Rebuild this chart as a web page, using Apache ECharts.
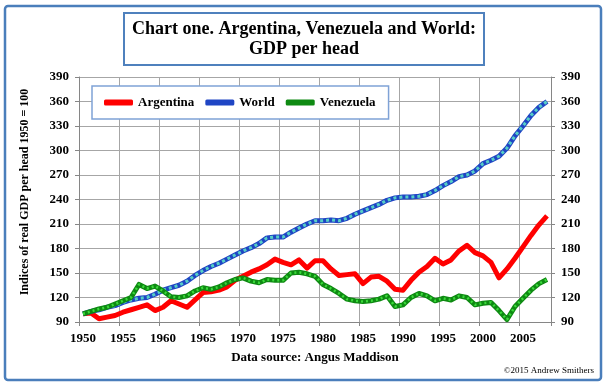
<!DOCTYPE html>
<html>
<head>
<meta charset="utf-8">
<script src="https://cdn.jsdelivr.net/npm/echarts@6/dist/echarts.min.js"></script>
<style>
html,body{margin:0;padding:0;background:#fff;}
#chart{width:608px;height:385px;}
</style>
</head>
<body>
<div id="chart"></div>
<script>
var years = ['1950','1951','1952','1953','1954','1955','1956','1957','1958','1959',
  '1960','1961','1962','1963','1964','1965','1966','1967','1968','1969',
  '1970','1971','1972','1973','1974','1975','1976','1977','1978','1979',
  '1980','1981','1982','1983','1984','1985','1986','1987','1988','1989',
  '1990','1991','1992','1993','1994','1995','1996','1997','1998','1999',
  '2000','2001','2002','2003','2004','2005','2006','2007','2008'];

var argentina = [100,101,94,96,98,102,105,108,111,104,
  108,116,112,108,117,126,127,129,133,141,
  146,151,155,160,167,163,160,166,156,165,
  165,155,147,148,149,137,145,146,140,130,
  129,141,151,158,168,161,166,177,184,175,
  171,163,144,155,168,182,196,209,220];

var world = [100,103,105,108,110,114,117,119,120,124,
  129,132,135,140,147,153,158,162,167,172,
  177,181,186,193,194,194,200,205,210,214,
  214,215,214,217,222,226,230,234,239,242,
  243,243,244,246,251,257,262,268,270,275,
  284,288,293,303,318,330,343,353,360];

var venezuela = [100,103,106,108,112,116,120,136,131,134,
  128,121,120,122,128,132,130,133,138,142,
  144,140,138,142,141,141,150,151,149,146,
  136,131,125,118,116,115,116,118,122,109,
  111,120,125,122,116,119,117,122,120,111,
  113,114,104,93,109,119,129,137,142];

var yMin = 90, yMax = 390, yStep = 30;

var serif = "'Liberation Serif','Times New Roman',serif";
var chart = echarts.init(document.getElementById('chart'), null, {renderer:'canvas'});

function axisY(pos){
  return {
    type:'value', position:pos, min:yMin, max:yMax, interval:yStep,
    axisLine:{show:true, lineStyle:{color:'#868686', width:1}},
    axisTick:{show:true, inside:false, length:4, lineStyle:{color:'#868686'}},
    axisLabel:{margin:10, color:'#000', fontFamily:serif, fontWeight:'bold', fontSize:13},
    splitLine:{show: pos==='left', lineStyle:{color:'#A6A6A6', width:1}}
  };
}

chart.setOption({
  animation:false,
  backgroundColor:'#fff',
  title:{
    text:'Chart one. Argentina, Venezuela and World:\nGDP per head',
    left:296, top:13,
    textAlign:'center',
    padding:[6,8,6,8],
    borderColor:'#4F81BD', borderWidth:2,
    textStyle:{fontFamily:serif, fontWeight:'bold', fontSize:18, lineHeight:20, color:'#000'}
  },
  legend:{
    data:['Argentina','World','Venezuela'],
    left:92, top:86,
    padding:[10,13,10,12],
    itemGap:11,
    itemWidth:29, itemHeight:6,
    icon:'roundRect',
    backgroundColor:'#fff',
    borderColor:'#7FA2D6', borderWidth:1.5,
    textStyle:{fontFamily:serif, fontWeight:'bold', fontSize:13, color:'#000'}
  },
  grid:{left:79, right:57, top:77, bottom:63, containLabel:false},
  xAxis:{
    type:'category', data:years, boundaryGap:true,
    axisLine:{show:true, lineStyle:{color:'#868686', width:1}},
    axisTick:{show:true, interval:4, length:4, lineStyle:{color:'#868686'}},
    axisLabel:{interval:4, margin:10, color:'#000', fontFamily:serif, fontWeight:'bold', fontSize:13},
    splitLine:{show:true, interval:4, lineStyle:{color:'#A6A6A6', width:1}},
    name:'Data source: Angus Maddison', nameLocation:'middle', nameGap:29,
    nameTextStyle:{fontFamily:serif, fontWeight:'bold', fontSize:13, color:'#000'}
  },
  yAxis:[axisY('left'), axisY('right')],
  series:[
    {name:'Argentina', type:'line', data:argentina, symbol:'none', color:'#FF0000',
      lineStyle:{color:'#FF0000', width:5, join:'round'}},
    {name:'World', type:'line', data:world, symbol:'none', color:'#1F45C4',
      lineStyle:{color:'#1F45C4', width:5, join:'round'}},
    {name:'World overlay', type:'line', data:world, symbol:'none', silent:true,
      lineStyle:{color:'#56CFC6', width:3, type:[3,3], cap:'butt'}},
    {name:'Venezuela', type:'line', data:venezuela, symbol:'none', color:'#0E8A12',
      lineStyle:{color:'#0E8A12', width:5, join:'round'}},
    {name:'Venezuela overlay', type:'line', data:venezuela, symbol:'none', silent:true,
      lineStyle:{color:'#3BDB3B', width:2.5, type:[2,3], cap:'butt'}}
  ],
  graphic:[
    {type:'rect', shape:{x:5, y:6, width:596, height:374, r:3},
      style:{fill:null, stroke:'#4A7EBB', lineWidth:2.5}, z:100, silent:true},
    {type:'text', x:25, y:192, rotation:Math.PI/2,
      style:{text:'Indices of real GDP per head 1950 = 100', font:'bold 12px '+serif,
        fill:'#000', textAlign:'center', textVerticalAlign:'middle'}},
    {type:'text', x:594, y:371,
      style:{text:'\u00A92015 Andrew Smithers', font:'9px '+serif,
        fill:'#000', textAlign:'right', textVerticalAlign:'middle'}}
  ]
});
</script>
</body>
</html>
